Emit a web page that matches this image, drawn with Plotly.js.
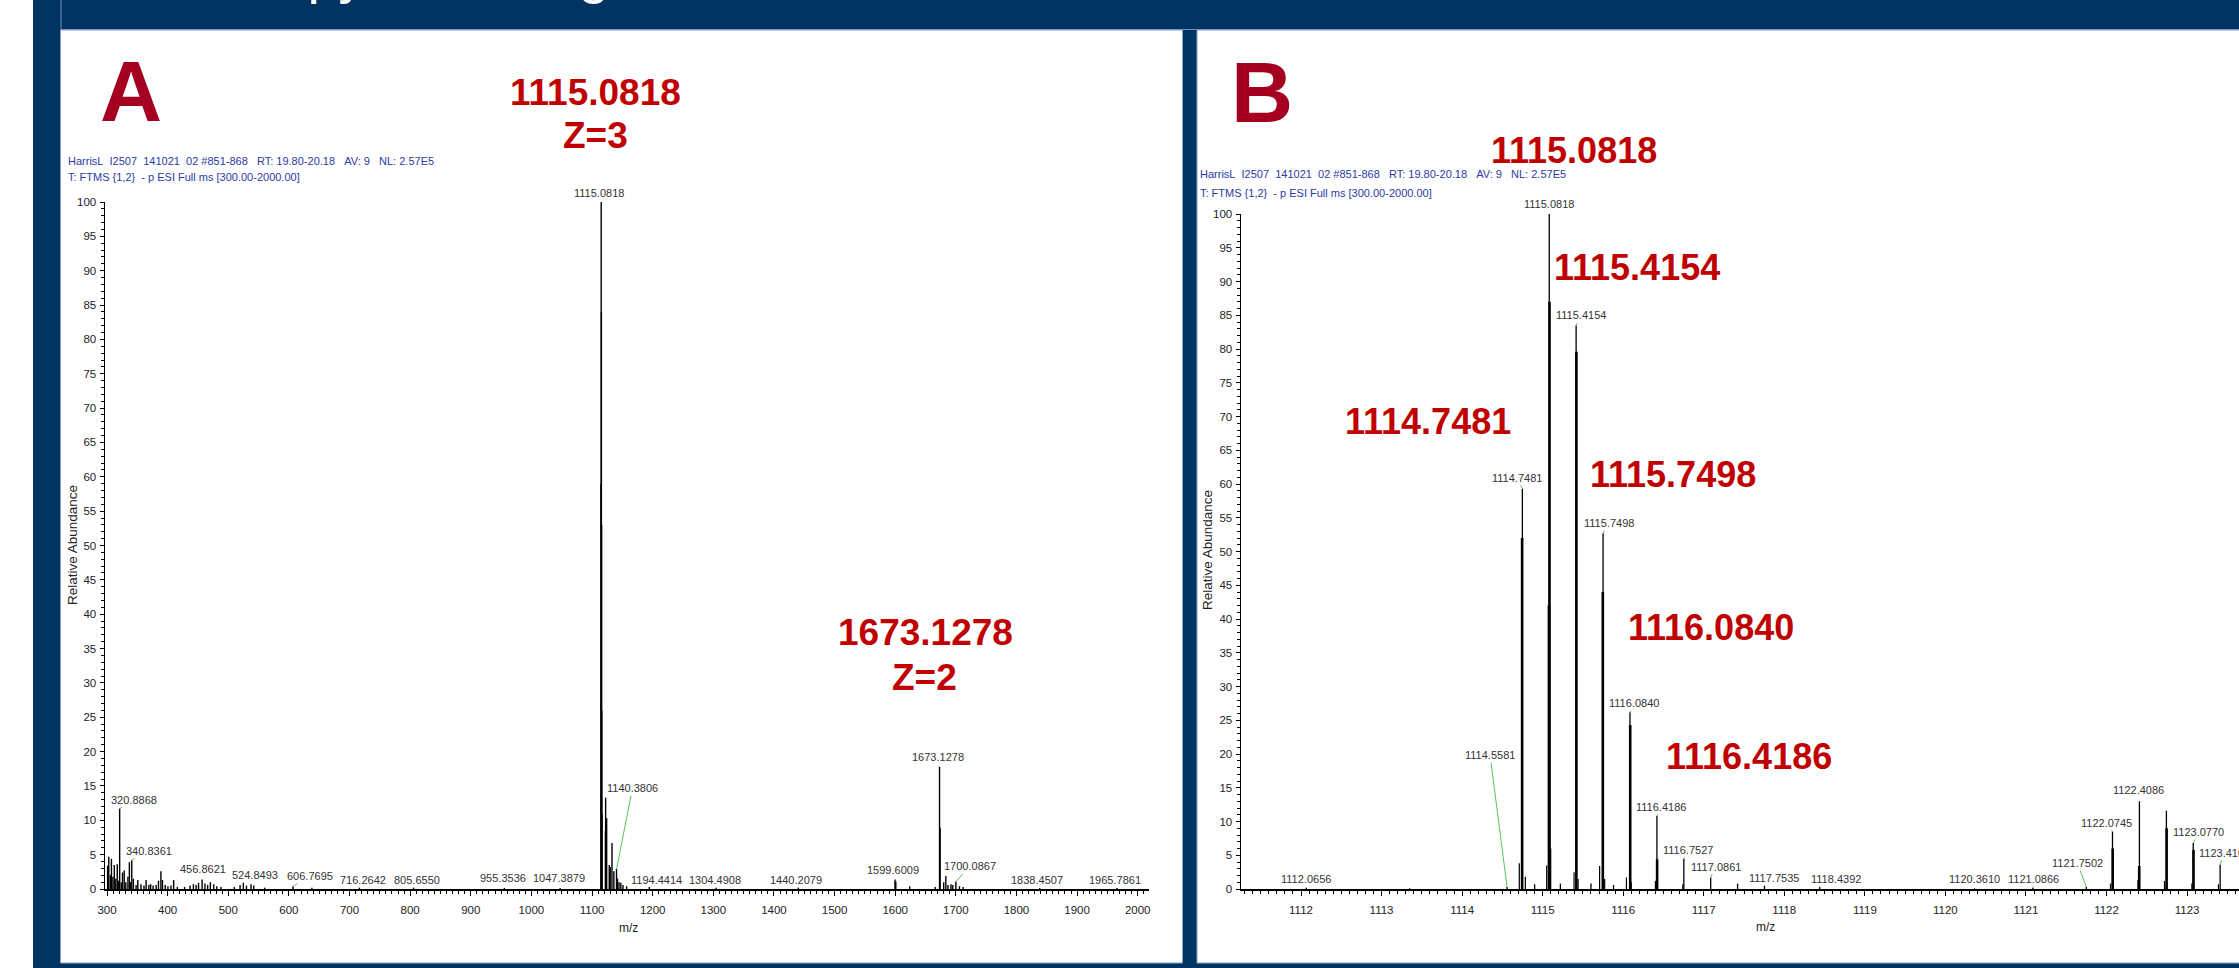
<!DOCTYPE html>
<html><head><meta charset="utf-8">
<script src="https://cdn.plot.ly/plotly-3.0.1.min.js"></script>
<style>html,body{margin:0;padding:0;overflow:hidden;background:#fff}</style>
</head><body><div id="chart" style="width:2239px;height:968px"></div>
<script>
// ---------- Panel A: full scan spectrum (m/z, relative abundance) ----------
const specA_mz = [301.0, 302.9, 305.5, 307.3, 309.8, 312.0, 314.5, 316.9, 318.6, 320.8868, 323.5, 325.6, 328.4, 331.0, 334.5, 336.9, 338.6, 340.8361, 343.5, 348.0, 350.8, 356.0, 361.0, 364.5, 369.0, 372.0, 376.0, 381.0, 384.9, 388.9, 391.5, 396.0, 400.5, 405.5, 409.9, 416.0, 428.0, 437.0, 442.5, 447.0, 451.0, 456.8621, 461.5, 466.0, 470.5, 476.0, 481.0, 488.0, 510.0, 519.5, 524.8493, 530.0, 537.5, 542.0, 560.0, 606.7695, 638.0, 716.2642, 805.6550, 955.3536, 1047.3879, 1114.7481, 1115.0818, 1115.4154, 1115.7498, 1116.0840, 1116.4186, 1122.0745, 1122.4086, 1124.0800, 1128.4, 1130.0, 1132.9, 1136.0, 1140.3806, 1142.0, 1144.5, 1147.5, 1151.0, 1157.0, 1194.4414, 1304.4908, 1440.2079, 1599.6009, 1601.0, 1624.0, 1666.0, 1673.1278, 1674.1300, 1680.0, 1683.5, 1687.0, 1692.0, 1695.0, 1700.0867, 1706.0, 1712.0, 1838.4507, 1965.7861];
const specA_int = [3.4, 4.7, 2.0, 4.4, 1.8, 3.5, 1.5, 3.6, 1.2, 11.7, 1.0, 2.4, 2.7, 1.0, 1.8, 3.9, 1.0, 4.2, 1.5, 0.6, 1.3, 0.7, 0.5, 1.3, 0.6, 0.7, 0.5, 0.6, 1.2, 2.6, 1.3, 0.6, 0.4, 0.5, 1.3, 0.3, 0.3, 0.5, 0.7, 0.6, 0.9, 1.4, 0.8, 0.6, 1.0, 0.7, 0.4, 0.3, 0.3, 0.6, 0.9, 0.5, 0.7, 0.5, 0.2, 0.4, 0.2, 0.2, 0.2, 0.15, 0.15, 59.0, 100.0, 84.0, 53.0, 26.0, 11.0, 8.5, 13.3, 10.3, 3.5, 3.2, 6.7, 2.6, 2.9, 1.5, 1.0, 0.9, 0.6, 0.4, 0.3, 0.2, 0.2, 1.4, 1.1, 0.4, 0.3, 17.8, 8.9, 1.0, 1.9, 0.6, 0.7, 0.6, 1.1, 0.4, 0.3, 0.15, 0.15];
const labelsA = [320.8868, 340.8361, 456.8621, 524.8493, 606.7695, 716.2642, 805.6550, 955.3536, 1047.3879, 1115.0818, 1140.3806, 1194.4414, 1304.4908, 1440.2079, 1599.6009, 1673.1278, 1700.0867, 1838.4507, 1965.7861];
const ticksA = {start: 300, end: 2000, step: 100};

// ---------- Panel B: zoom on the 1115 isotope cluster ----------
const specB_apexMz = [1112.0656, 1113.35, 1114.5581, 1114.7481, 1114.90, 1115.0818, 1115.22, 1115.4154, 1115.60, 1115.7498, 1115.88, 1116.0840, 1116.4186, 1116.7527, 1117.0861, 1117.4200, 1117.7535, 1118.4392, 1120.3610, 1121.0866, 1121.7502, 1122.0745, 1122.4086, 1122.7435, 1123.0770, 1123.4108, 1123.7443];
const specB_apexInt = [0.2, 0.1, 0.3, 59.3, 0.7, 100.0, 0.8, 83.5, 0.8, 52.7, 0.6, 26.2, 10.8, 4.5, 1.7, 0.8, 0.5, 0.3, 0.1, 0.2, 0.3, 8.5, 13.0, 11.6, 6.8, 3.6, 1.5];
const specB_shoulderMz = [1114.7450, 1115.0850, 1115.0780, 1115.4190, 1115.7470, 1116.0870, 1116.4210, 1122.0770, 1122.4060, 1122.7465, 1123.0800];
const specB_shoulderInt = [52.0, 87.0, 42.0, 79.6, 44.0, 24.3, 4.4, 6.0, 3.4, 9.0, 5.8];
const specB_footMz = [1114.71, 1114.785, 1115.05, 1115.10, 1115.39, 1115.44, 1115.707, 1115.77, 1116.04, 1116.10, 1116.40, 1116.74, 1122.05, 1122.39, 1122.72, 1123.06, 1123.39];
const specB_footInt = [3.8, 1.8, 3.5, 6.0, 2.5, 1.5, 3.4, 1.5, 1.7, 1.0, 1.2, 0.7, 0.8, 1.3, 1.2, 0.8, 0.7];
const labelsB = [1112.0656, 1114.5581, 1114.7481, 1115.0818, 1115.4154, 1115.7498, 1116.0840, 1116.4186, 1116.7527, 1117.0861, 1117.7535, 1118.4392, 1120.3610, 1121.0866, 1121.7502, 1122.0745, 1122.4086, 1123.0770, 1123.4108];

// Highlighted (red) peaks
const redA = ["1115.0818", "Z=3", "1673.1278", "Z=2"];
const redB = ["1115.0818", "1115.4154", "1114.7481", "1115.7498", "1116.0840", "1116.4186"];

const headerLine1 = "HarrisL&nbsp;&nbsp;I2507&nbsp;&nbsp;141021&nbsp;&nbsp;02 #851-868&nbsp;&nbsp;&nbsp;RT: 19.80-20.18&nbsp;&nbsp;&nbsp;AV: 9&nbsp;&nbsp;&nbsp;NL: 2.57E5";
const headerLine2 = "T: FTMS {1,2}&nbsp;&nbsp;- p ESI Full ms [300.00-2000.00]";

// ---------- layout helpers (positions / styles) ----------
const W = 2239, H = 968;
const PX = v => v / W;
const PY = v => 1 - v / H;
const NAVY = '#013462';
const SANS = "'Liberation Sans', Arial, sans-serif";
const GREEN = '#5cc35c';

function sticks(mz, inten) {
  const x = [], y = [];
  mz.forEach((m, i) => { x.push(m, m, null); y.push(0, inten[i], null); });
  return {x, y};
}
function lookup(mzArr, intArr, m) {
  let best = 0, d = 1e9;
  mzArr.forEach((v, i) => { if (Math.abs(v - m) < d) { d = Math.abs(v - m); best = i; } });
  return intArr[best];
}

// label offsets in pixels: [dx, dy, leader]
const offA = {
  '320.8868': [14, -9, 1], '340.8361': [17, -9, 1], '456.8621': [1, -10, 0], '524.8493': [12, -8, 1],
  '606.7695': [17, -10, 1], '716.2642': [4, -8, 1], '805.6550': [3, -8, 1], '955.3536': [-1, -10, 0],
  '1047.3879': [-1, -10, 0], '1115.0818': [-2, -9, 0], '1140.3806': [16, -81, 1], '1194.4414': [7, -7, 1],
  '1304.4908': [-1, -8, 0], '1440.2079': [-2, -8, 0], '1599.6009': [-2, -9, 0], '1673.1278': [-2, -10, 0],
  '1700.0867': [14, -15, 1], '1838.4507': [-3, -8, 0], '1965.7861': [-2, -8, 0]
};
const offB = {
  '1112.0656': [0, -9, 0], '1114.5581': [-17, -132, 1], '1114.7481': [-5, -11, 1], '1115.0818': [0, -10, 0],
  '1115.4154': [5, -10, 1], '1115.7498': [6, -10, 1], '1116.0840': [4, -9, 1], '1116.4186': [4, -9, 1],
  '1116.7527': [4, -9, 1], '1117.0861': [5, -11, 1], '1117.7535': [10, -8, 1], '1118.4392': [16, -8, 1],
  '1120.3610': [0, -9, 0], '1121.0866': [1, -9, 1], '1121.7502': [-9, -24, 1], '1122.0745': [-6, -9, 1],
  '1122.4086': [-1, -11, 0], '1123.0770': [5, -11, 1], '1123.4108': [4, -12, 1]
};

function peakLabel(m, I, off, xa, ya) {
  const txt = m.toFixed(4);
  const base = {x: m, y: I, xref: xa, yref: ya, text: txt,
    font: {family: SANS, size: 11, color: '#333'}, xanchor: 'center', yanchor: 'middle'};
  if (off[2]) {
    return Object.assign(base, {showarrow: true, ax: off[0], ay: off[1], axref: 'pixel', ayref: 'pixel',
      arrowhead: 0, arrowwidth: 1, arrowcolor: GREEN, standoff: 0, startstandoff: 0});
  }
  return Object.assign(base, {showarrow: false, xshift: off[0], yshift: -off[1]});
}

const sA = sticks(specA_mz, specA_int);
const sBa = sticks(specB_apexMz, specB_apexInt);
const sBs = sticks(specB_shoulderMz, specB_shoulderInt);
const sBf = sticks(specB_footMz, specB_footInt);

const traces = [
  {x: sA.x, y: sA.y, xaxis: 'x', yaxis: 'y', mode: 'lines', line: {color: '#000', width: 1.4}, hoverinfo: 'skip', showlegend: false},
  {x: sBf.x, y: sBf.y, xaxis: 'x2', yaxis: 'y2', mode: 'lines', line: {color: '#000', width: 1.2}, hoverinfo: 'skip', showlegend: false},
  {x: sBa.x, y: sBa.y, xaxis: 'x2', yaxis: 'y2', mode: 'lines', line: {color: '#000', width: 1.3}, hoverinfo: 'skip', showlegend: false},
  {x: sBs.x, y: sBs.y, xaxis: 'x2', yaxis: 'y2', mode: 'lines', line: {color: '#000', width: 2.6}, hoverinfo: 'skip', showlegend: false}
];

const tickFontX = {family: SANS, size: 11.5, color: '#222'};
const tickFontY = {family: SANS, size: 11.5, color: '#222'};
function xAxis(domain, range, dtick, minorD) {
  return {domain, range, dtick, tick0: 0, showline: true, linecolor: '#000', linewidth: 2,
    ticks: 'outside', ticklen: 5, tickwidth: 1, tickcolor: '#000',
    minor: {dtick: minorD, ticks: 'outside', ticklen: 3, tickwidth: 1, tickcolor: '#000', showgrid: false},
    showgrid: false, zeroline: false, tickfont: tickFontX, fixedrange: true, ticklabelstandoff: 4};
}
function yAxis(domain, anchor) {
  return {domain, range: [0, 100], dtick: 5, tick0: 0, anchor, showline: true, linecolor: '#000', linewidth: 1.5,
    ticks: 'outside', ticklen: 4, tickwidth: 1, tickcolor: '#000',
    minor: {dtick: 1, ticks: 'outside', ticklen: 3, tickwidth: 1, tickcolor: '#000', showgrid: false},
    showgrid: false, zeroline: false, tickfont: tickFontY, fixedrange: true, ticklabelstandoff: 1};
}

const ann = [];
// title band descenders (title text mostly above the visible area)
ann.push({xref: 'paper', yref: 'paper', x: PX(184), y: PY(-27.4), xanchor: 'left', yanchor: 'middle', showarrow: false,
  text: 'Isotopy Matching', font: {family: SANS, size: 56, color: '#fff'}});
// panel letters
ann.push({xref: 'paper', yref: 'paper', x: PX(131), y: PY(91), text: '<b>A</b>', showarrow: false,
  font: {family: SANS, size: 86, color: '#a50021'}, xanchor: 'center', yanchor: 'middle'});
ann.push({xref: 'paper', yref: 'paper', x: PX(1262), y: PY(91.5), text: '<b>B</b>', showarrow: false,
  font: {family: SANS, size: 86, color: '#a50021'}, xanchor: 'center', yanchor: 'middle'});
// red callouts
const redPosA = [[595, 92], [595, 135], [925, 632], [924, 677]];
redA.forEach((t, i) => ann.push({xref: 'paper', yref: 'paper', x: PX(redPosA[i][0]), y: PY(redPosA[i][1]), text: '<b>' + t + '</b>',
  showarrow: false, font: {family: SANS, size: 37, color: '#c00000'}, xanchor: 'center', yanchor: 'middle'}));
const redPosB = [[1574, 151], [1637, 267], [1428, 422], [1673, 474], [1711, 627], [1749, 756]];
redB.forEach((t, i) => ann.push({xref: 'paper', yref: 'paper', x: PX(redPosB[i][0]), y: PY(redPosB[i][1]), text: '<b>' + t + '</b>',
  showarrow: false, font: {family: SANS, size: 36, color: '#c00000'}, xanchor: 'center', yanchor: 'middle'}));
// instrument headers
const hdr = (t, x, y) => ({xref: 'paper', yref: 'paper', x: PX(x), y: PY(y), text: t, showarrow: false,
  xanchor: 'left', yanchor: 'middle', font: {family: SANS, size: 11, color: '#2c3aa6'}});
ann.push(hdr(headerLine1, 66, 161), hdr(headerLine2, 66, 177), hdr(headerLine1, 1198, 174), hdr(headerLine2, 1198, 193));
// axis titles
const axt = (t, x, y, ang, s) => ({xref: 'paper', yref: 'paper', x: PX(x), y: PY(y), text: t, showarrow: false, textangle: ang,
  xanchor: 'center', yanchor: 'middle', font: {family: SANS, size: s, color: '#222'}});
ann.push(axt('m/z', 628, 928, 0, 12), axt('m/z', 1765, 927, 0, 12),
  axt('Relative Abundance', 72, 545, -90, 13.5), axt('Relative Abundance', 1207, 550, -90, 13.5));
// peak labels
labelsA.forEach(m => ann.push(peakLabel(m, lookup(specA_mz, specA_int, m), offA[m.toFixed(4)], 'x', 'y')));
labelsB.forEach(m => ann.push(peakLabel(m, lookup(specB_apexMz, specB_apexInt, m), offB[m.toFixed(4)], 'x2', 'y2')));

const shapes = [
  {type: 'rect', xref: 'paper', yref: 'paper', x0: PX(33), x1: 1.01, y0: -0.01, y1: 1.01, fillcolor: NAVY, line: {width: 0}, layer: 'below'},
  {type: 'rect', xref: 'paper', yref: 'paper', x0: PX(61), x1: 1.01, y0: PY(29.5), y1: 1.02, fillcolor: NAVY, line: {color: '#6f8fc0', width: 1}, layer: 'below'},
  {type: 'rect', xref: 'paper', yref: 'paper', x0: PX(60.5), x1: PX(1182.5), y0: PY(963), y1: PY(30), fillcolor: '#fff', line: {color: '#86a3d0', width: 1}, layer: 'below'},
  {type: 'rect', xref: 'paper', yref: 'paper', x0: PX(1197), x1: 1.01, y0: PY(963), y1: PY(30), fillcolor: '#fff', line: {color: '#86a3d0', width: 1}, layer: 'below'}
];

const layout = {
  width: W, height: H, autosize: false, margin: {l: 0, r: 0, t: 0, b: 0, pad: 0},
  paper_bgcolor: '#fff', plot_bgcolor: 'rgba(0,0,0,0)', showlegend: false,
  xaxis: Object.assign(xAxis([PX(105), PX(1149)], [296.7, 2018.6], ticksA.step, 10), {anchor: 'y'}),
  yaxis: yAxis([PY(889), PY(202)], 'x'),
  xaxis2: Object.assign(xAxis([PX(1241), 1], [1111.255, 1123.645], 1, 0.1), {anchor: 'y2'}),
  yaxis2: yAxis([PY(889), PY(214)], 'x2'),
  shapes, annotations: ann
};
Plotly.newPlot('chart', traces, layout, {staticPlot: true, displayModeBar: false});
</script></body></html>
